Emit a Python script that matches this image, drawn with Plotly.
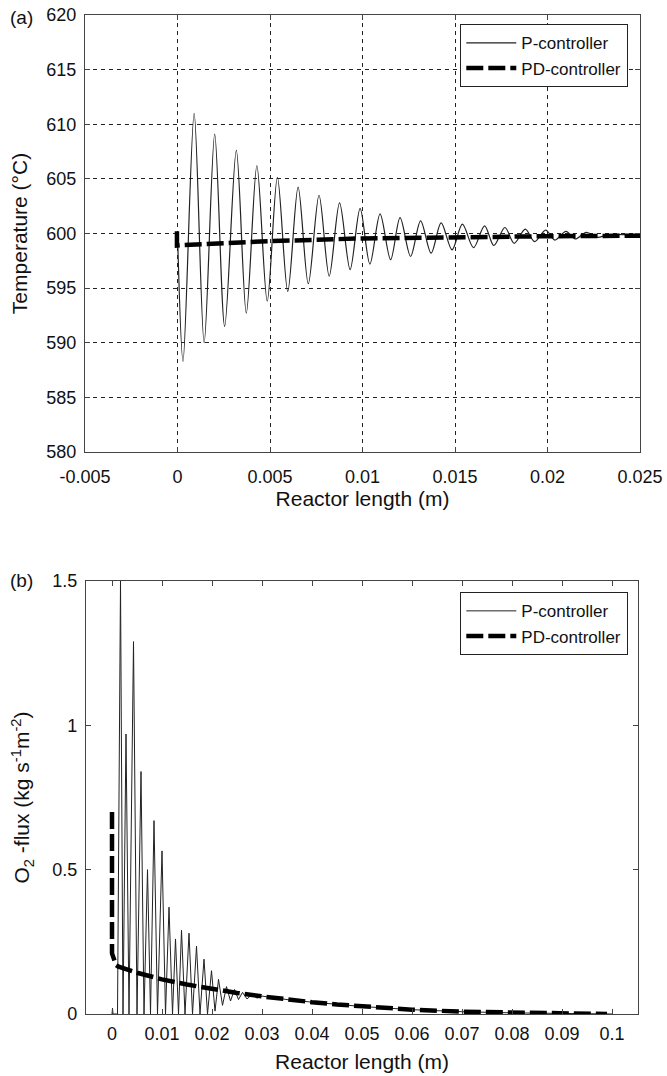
import plotly.graph_objects as go

# ---------------- data: panel (a) temperature ----------------
p_x_a = [0.0, 0.0003, 0.0009, 0.00144, 0.00201, 0.00255, 0.00318, 0.00372, 0.00429, 0.00485,
         0.0054, 0.00596, 0.00652, 0.00707, 0.00765, 0.0082, 0.00876, 0.00933, 0.00987, 0.0104,
         0.01095, 0.01152, 0.01203, 0.0126, 0.01314, 0.01371, 0.01425, 0.01484, 0.0154, 0.0160,
         0.0166, 0.0171, 0.0177, 0.0182, 0.0188, 0.0193, 0.0199, 0.0204, 0.0210, 0.0215,
         0.0221, 0.0227, 0.0233, 0.025]
p_y_a = [600.0, 588.3, 611.0, 590.0, 609.1, 591.5, 607.6, 592.7, 606.2, 593.8,
         605.15, 594.7, 604.25, 595.4, 603.5, 596.1, 602.8, 596.7, 602.3, 597.2,
         601.8, 597.6, 601.45, 597.9, 601.15, 598.2, 600.97, 598.5, 600.85, 598.7,
         600.7, 598.9, 600.55, 599.1, 600.4, 599.25, 600.3, 599.4, 600.2, 599.5,
         600.1, 599.65, 599.9, 599.8]
pd_x_a = [-0.00003, -0.00003, 0.0003, 0.002, 0.005, 0.01, 0.015, 0.02, 0.025]
pd_y_a = [600.2, 598.9, 598.95, 599.1, 599.3, 599.55, 599.7, 599.75, 599.8]

# ---------------- data: panel (b) O2 flux ----------------
p_x_b = [0.0, 0.0001, 0.0002, 0.0011, 0.0017, 0.0022, 0.0028, 0.0034, 0.0043, 0.0050,
         0.0058, 0.0064, 0.0071, 0.0077, 0.0084, 0.0091, 0.0100, 0.0107, 0.0114, 0.0121,
         0.0127, 0.0133, 0.0139, 0.0146, 0.0154, 0.0161, 0.0169, 0.0176, 0.0184, 0.0191,
         0.0199, 0.0206, 0.0213, 0.0221, 0.0229, 0.0237, 0.0245, 0.0253, 0.0261, 0.0270,
         0.0280, 0.0290, 0.030, 0.035, 0.040, 0.045, 0.050, 0.060, 0.070, 0.080,
         0.090, 0.100]
p_y_b = [0.0, 0.02, 0.0, 0.0, 1.5, 0.0, 0.97, 0.0, 1.29, 0.0,
         0.84, 0.0, 0.50, 0.0, 0.67, 0.0, 0.565, 0.0, 0.37, 0.0,
         0.26, 0.0, 0.29, 0.0, 0.28, 0.0, 0.235, 0.0, 0.19, 0.0,
         0.15, 0.01, 0.12, 0.03, 0.095, 0.045, 0.085, 0.05, 0.075, 0.052,
         0.068, 0.055, 0.062, 0.05, 0.041, 0.033, 0.026, 0.015, 0.008, 0.004,
         0.001, 0.0]
pd_x_b = [0.0, 0.0, 0.0008, 0.0012, 0.005, 0.01, 0.015, 0.02, 0.025, 0.03,
          0.035, 0.04, 0.045, 0.05, 0.06, 0.07, 0.08, 0.09, 0.099]
pd_y_b = [0.70, 0.21, 0.17, 0.165, 0.143, 0.12, 0.102, 0.086, 0.073, 0.061,
          0.05, 0.041, 0.033, 0.026, 0.015, 0.008, 0.004, 0.001, 0.0]

# ticks
xt_a = [-0.005, 0, 0.005, 0.01, 0.015, 0.02, 0.025]
xt_a_txt = ["-0.005", "0", "0.005", "0.01", "0.015", "0.02", "0.025"]
yt_a = [580, 585, 590, 595, 600, 605, 610, 615, 620]
xt_b = [0, 0.01, 0.02, 0.03, 0.04, 0.05, 0.06, 0.07, 0.08, 0.09, 0.1]
xt_b_txt = ["0", "0.01", "0.02", "0.03", "0.04", "0.05", "0.06", "0.07", "0.08", "0.09", "0.1"]
yt_b = [0, 0.5, 1, 1.5]
yt_b_txt = ["0", "0.5", "1", "1.5"]

FONT = "Liberation Sans, Arial, sans-serif"
W, H = 667, 1076
INK = "#111111"
AX = "#444444"
DASH = "17px,5px"
TICKF = dict(family=FONT, size=18, color=INK)
TITLEF = dict(family=FONT, size=21, color=INK)

fig = go.Figure()
fig.add_trace(go.Scatter(x=p_x_a, y=p_y_a, mode="lines", name="P-controller",
                         line=dict(color="#222222", width=1.2, shape="spline", smoothing=0.9),
                         xaxis="x", yaxis="y", legend="legend"))
fig.add_trace(go.Scatter(x=pd_x_a, y=pd_y_a, mode="lines", name="PD-controller",
                         line=dict(color="black", width=4.5, dash=DASH),
                         xaxis="x", yaxis="y", legend="legend"))
fig.add_trace(go.Scatter(x=p_x_b, y=p_y_b, mode="lines", name="P-controller",
                         line=dict(color="#222222", width=1.0),
                         xaxis="x2", yaxis="y2", legend="legend2"))
fig.add_trace(go.Scatter(x=pd_x_b, y=pd_y_b, mode="lines", name="PD-controller",
                         line=dict(color="black", width=4.5, dash=DASH),
                         xaxis="x2", yaxis="y2", legend="legend2"))

common = dict(showline=True, linecolor=AX, linewidth=1.3, mirror="ticks",
              ticks="inside", ticklen=5, tickcolor=AX, tickwidth=1,
              zeroline=False, automargin=False, tickfont=TICKF)

fig.update_layout(
    width=W, height=H,
    margin=dict(l=0, r=0, t=0, b=0),
    paper_bgcolor="white", plot_bgcolor="white",
    font=dict(family=FONT, size=17, color=INK),
    xaxis=dict(domain=[85 / W, 640 / W], range=[-0.005, 0.025], anchor="y",
               tickvals=xt_a, ticktext=xt_a_txt, ticklabelstandoff=8,
               showgrid=True, gridcolor="#222222", griddash="4px,4px", gridwidth=1,
               title=dict(text="Reactor length (m)", font=TITLEF, standoff=3),
               **common),
    yaxis=dict(domain=[1 - 452 / H, 1 - 15 / H], range=[580, 620], anchor="x",
               tickvals=yt_a, ticklabelstandoff=4,
               showgrid=True, gridcolor="#222222", griddash="4px,4px", gridwidth=1,
               title=dict(text="Temperature (°C)", font=TITLEF, standoff=12),
               **common),
    xaxis2=dict(domain=[86 / W, 638 / W], range=[-0.0052, 0.1052], anchor="y2",
                tickvals=xt_b, ticktext=xt_b_txt, ticklabelstandoff=3, showgrid=False,
                title=dict(text="Reactor length (m)", font=TITLEF, standoff=11),
                **common),
    yaxis2=dict(domain=[1 - 1014 / H, 1 - 581 / H], range=[0, 1.5], anchor="x2",
                tickvals=yt_b, ticktext=yt_b_txt, ticklabelstandoff=4, showgrid=False,
                title=dict(text="O<sub>2</sub> -flux (kg s<sup>-1</sup>m<sup>-2</sup>)",
                           font=TITLEF, standoff=16),
                **common),
    legend=dict(x=628 / W, y=1 - 24 / H, xanchor="right", yanchor="top",
                bgcolor="white", bordercolor="#222222", borderwidth=1.3,
                font=dict(family=FONT, size=17, color=INK), itemwidth=50,
                tracegroupgap=0),
    legend2=dict(x=628 / W, y=1 - 592 / H, xanchor="right", yanchor="top",
                 bgcolor="white", bordercolor="#222222", borderwidth=1.3,
                 font=dict(family=FONT, size=17, color=INK), itemwidth=50,
                 tracegroupgap=0),
    showlegend=True,
    annotations=[
        dict(text="(a)", x=8 / W, y=1 - 17 / H, xref="paper", yref="paper",
             xanchor="left", yanchor="middle", showarrow=False,
             font=dict(family=FONT, size=19, color=INK)),
        dict(text="(b)", x=8 / W, y=1 - 580 / H, xref="paper", yref="paper",
             xanchor="left", yanchor="middle", showarrow=False,
             font=dict(family=FONT, size=19, color=INK)),
    ],
)

fig.write_html("out.html", config={"displayModeBar": False},
               post_script="document.body.style.margin='0';document.body.style.overflow='hidden';")
